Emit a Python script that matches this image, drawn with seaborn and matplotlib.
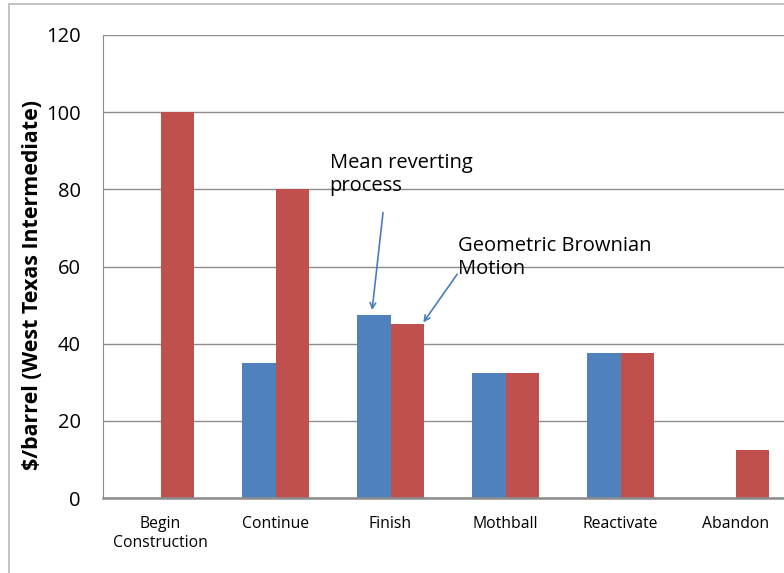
import pandas as pd
import numpy as np
import matplotlib.pyplot as plt
import seaborn as sns
from matplotlib.patches import Rectangle

# Data
categories = ['Begin\nConstruction', 'Continue', 'Finish', 'Mothball', 'Reactivate', 'Abandon']
mean_reverting = [0, 35, 47.5, 32.5, 37.5, 0]
gbm = [100, 80, 45, 32.5, 37.5, 12.5]
series_names = ['Mean reverting process', 'Geometric Brownian Motion']
yticks = [0, 20, 40, 60, 80, 100, 120]

df = pd.DataFrame({
    'category': categories * 2,
    'value': mean_reverting + gbm,
    'series': [series_names[0]] * len(categories) + [series_names[1]] * len(categories),
})

sns.set_style("white")
plt.rcParams['font.family'] = ['Open Sans', 'DejaVu Sans']
plt.rcParams['text.color'] = 'black'

fig = plt.figure(figsize=(7.84, 5.73), dpi=100)
ax = fig.add_axes([103 / 784, 1 - 498 / 573, 690 / 784, 463 / 573])

# outer frame of the chart area
fig.patches.append(Rectangle((9 / 784, -0.05), 1.1, 1.05 - 4 / 573, transform=fig.transFigure,
                             fill=False, edgecolor='#b8b8b8', lw=1.2, zorder=0))

sns.barplot(data=df, x='category', y='value', hue='series', order=categories,
            palette=['#4F81BD', '#C0504D'], width=0.575, gap=0, saturation=1,
            edgecolor='none', ax=ax, legend=False)

ax.set_xlim(-0.5, len(categories) - 0.5)
ax.set_ylim(0, 120)
ax.set_yticks(yticks)
ax.set_yticklabels([str(v) for v in yticks], fontsize=14.5, color='black')
ax.yaxis.grid(True, color='#8c8c8c', lw=1)
ax.set_axisbelow(True)

ax.set_xticks(range(len(categories)))
ax.set_xticklabels(categories, fontsize=11.3, color='black', linespacing=1.25)
ax.set_xticks(np.arange(-0.5, len(categories), 1), minor=True)
ax.tick_params(axis='x', which='major', length=0, pad=13)
ax.tick_params(axis='x', which='minor', length=5, color='#8c8c8c', width=1.2)
ax.tick_params(axis='y', length=6, color='#8c8c8c', pad=10)

for s in ['top', 'right']:
    ax.spines[s].set_visible(False)
ax.spines['left'].set_color('#8c8c8c')
ax.spines['bottom'].set_color('#8c8c8c')
ax.spines['bottom'].set_linewidth(1.8)

ax.set_xlabel('')
ax.set_ylabel('$/barrel (West Texas Intermediate)', fontsize=15.4, fontweight='bold', color='black')
ax.yaxis.set_label_coords(-0.087, 0.46)

# Annotations
ax.text(1.47, 89.5, 'Mean reverting\nprocess', fontsize=14.5, va='top', ha='left', linespacing=1.2)
ax.text(2.59, 68, 'Geometric Brownian\nMotion', fontsize=14.5, va='top', ha='left', linespacing=1.2)
arrow = dict(arrowstyle='->', color='#4a7ebb', lw=1.2, shrinkA=0, shrinkB=0)
ax.annotate('', xy=(1.84, 48.7), xytext=(1.935, 74), arrowprops=arrow)
ax.annotate('', xy=(2.285, 45.5), xytext=(2.58, 58), arrowprops=arrow)

plt.savefig('out.png', dpi=100)
